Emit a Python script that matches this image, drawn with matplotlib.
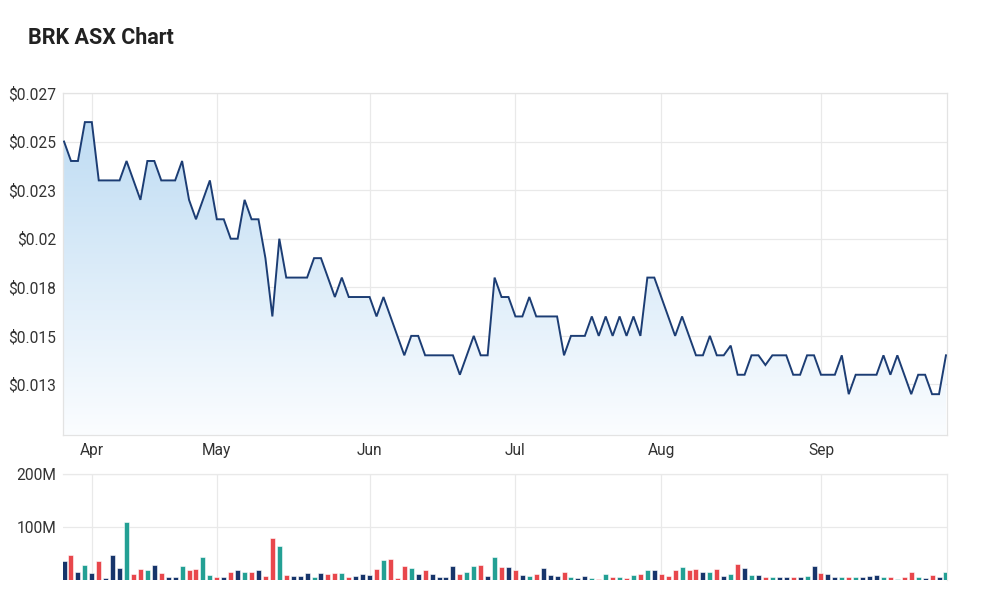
import numpy as np
import matplotlib
matplotlib.use("Agg")
import matplotlib.pyplot as plt
from matplotlib.colors import LinearSegmentedColormap

# ---------------- data ----------------
prices = [
    0.025, 0.024, 0.024, 0.026, 0.026, 0.023, 0.023, 0.023, 0.023, 0.024,
    0.023, 0.022, 0.024, 0.024, 0.023, 0.023, 0.023, 0.024, 0.022, 0.021,
    0.022, 0.023, 0.021, 0.021, 0.020, 0.020, 0.022, 0.021, 0.021, 0.019,
    0.016, 0.020, 0.018, 0.018, 0.018, 0.018, 0.019, 0.019, 0.018, 0.017,
    0.018, 0.017, 0.017, 0.017, 0.017, 0.016, 0.017, 0.016, 0.015, 0.014,
    0.015, 0.015, 0.014, 0.014, 0.014, 0.014, 0.014, 0.013, 0.014, 0.015,
    0.014, 0.014, 0.018, 0.017, 0.017, 0.016, 0.016, 0.017, 0.016, 0.016,
    0.016, 0.016, 0.014, 0.015, 0.015, 0.015, 0.016, 0.015, 0.016, 0.015,
    0.016, 0.015, 0.016, 0.015, 0.018, 0.018, 0.017, 0.016, 0.015, 0.016,
    0.015, 0.014, 0.014, 0.015, 0.014, 0.014, 0.0145, 0.013, 0.013, 0.014,
    0.014, 0.0135, 0.014, 0.014, 0.014, 0.013, 0.013, 0.014, 0.014, 0.013,
    0.013, 0.013, 0.014, 0.012, 0.013, 0.013, 0.013, 0.013, 0.014, 0.013,
    0.014, 0.013, 0.012, 0.013, 0.013, 0.012, 0.012, 0.014,
]
volumes_m = [
    36, 47, 16, 28, 13, 35, 4, 47, 23, 109,
    11, 21, 18, 28, 13, 5, 5, 26, 18, 21,
    44, 9, 6, 6, 16, 19, 16, 16, 19, 7,
    79, 65, 9, 7, 7, 14, 5, 14, 11, 14,
    14, 5, 7, 11, 9, 21, 37, 39, 3, 27,
    23, 11, 19, 11, 5, 5, 27, 11, 15, 27,
    29, 7, 43, 25, 25, 19, 9, 7, 11, 23,
    9, 7, 16, 5, 3, 7, 3, 2, 11, 5,
    5, 3, 9, 11, 19, 19, 11, 7, 19, 25,
    19, 21, 15, 15, 21, 7, 11, 31, 23, 9,
    9, 5, 5, 5, 5, 5, 5, 7, 27, 13,
    11, 5, 5, 5, 5, 5, 7, 9, 5, 5,
    2, 5, 15, 5, 3, 9, 5, 16,
]
month_labels = ["Apr", "May", "Jun", "Jul", "Aug", "Sep"]
month_start_idx = [4, 22, 44, 65, 86, 109]
price_ticks = [0.0125, 0.015, 0.0175, 0.02, 0.0225, 0.025, 0.0275]
price_tick_labels = ["$0.013", "$0.015", "$0.018", "$0.02", "$0.023", "$0.025", "$0.027"]
vol_ticks = [100, 200]
vol_tick_labels = ["100M", "200M"]
title = "BRK ASX Chart"

# ---------------- style ----------------
plt.rcParams['font.family'] = ['Roboto', 'DejaVu Sans']
TXT = "#333333"
GRID = "#e9e9e9"
LINE = "#1c3d74"
UP, DOWN, FLAT = "#23a094", "#e8474c", "#17356b"

x = np.arange(len(prices))
p = np.array(prices)

fig = plt.figure(figsize=(10, 6.1), dpi=100)
fig.text(0.028, 0.938, title, fontsize=15.5, fontweight="bold", color="#222222",
         va="center", ha="left")

xlim = (-0.15, len(prices) - 1 + 0.15)

# ---- price panel ----
ax = fig.add_axes([0.063, 0.2869, 0.884, 0.5607])
ax.set_xlim(*xlim)
ax.set_ylim(0.0099, 0.0275)
poly = ax.fill_between(x, p, 0.0099, color="none", lw=0)
cmap = LinearSegmentedColormap.from_list("g", ["#fbfdff", "#b9d9f2"])
grad = np.linspace(0, 1, 256).reshape(-1, 1)
im = ax.imshow(grad, extent=[xlim[0], xlim[1], 0.0099, 0.0275], origin="lower",
               aspect="auto", cmap=cmap, zorder=1)
im.set_clip_path(poly.get_paths()[0], transform=ax.transData)
ax.plot(x, p, color=LINE, lw=1.4, zorder=3, solid_joinstyle="miter")

ax.set_yticks(price_ticks)
ax.set_yticklabels(price_tick_labels)
ax.set_xticks(month_start_idx)
ax.set_xticklabels(month_labels)
ax.grid(True, color=GRID, lw=0.9, zorder=0)
ax.set_axisbelow(True)
ax.tick_params(length=0, labelsize=11.2, colors=TXT, pad=5)
ax.tick_params(axis="x", pad=5.5)
for s in ax.spines.values():
    s.set_color("#e3e3e3")
    s.set_linewidth(0.9)

# ---- volume panel ----
colors = [FLAT]
for i in range(1, len(p)):
    if p[i] > p[i - 1]:
        colors.append(UP)
    elif p[i] < p[i - 1]:
        colors.append(DOWN)
    else:
        colors.append(FLAT)

axv = fig.add_axes([0.063, 0.0492, 0.884, 0.1738])
axv.bar(x, volumes_m, width=0.72, color=colors, edgecolor="white", linewidth=0.4, zorder=3)
axv.set_xlim(*xlim)
axv.set_ylim(0, 200)
axv.set_yticks(vol_ticks)
axv.set_yticklabels(vol_tick_labels)
axv.set_xticks(month_start_idx)
axv.set_xticklabels([])
axv.grid(True, color=GRID, lw=0.9, zorder=0)
axv.set_axisbelow(True)
axv.tick_params(length=0, labelsize=11.2, colors=TXT, pad=5)
for name, s in axv.spines.items():
    if name in ("left", "bottom"):
        s.set_visible(False)
    else:
        s.set_color("#e9e9e9")
        s.set_linewidth(0.9)

fig.savefig("out.png", dpi=100, facecolor="white")
